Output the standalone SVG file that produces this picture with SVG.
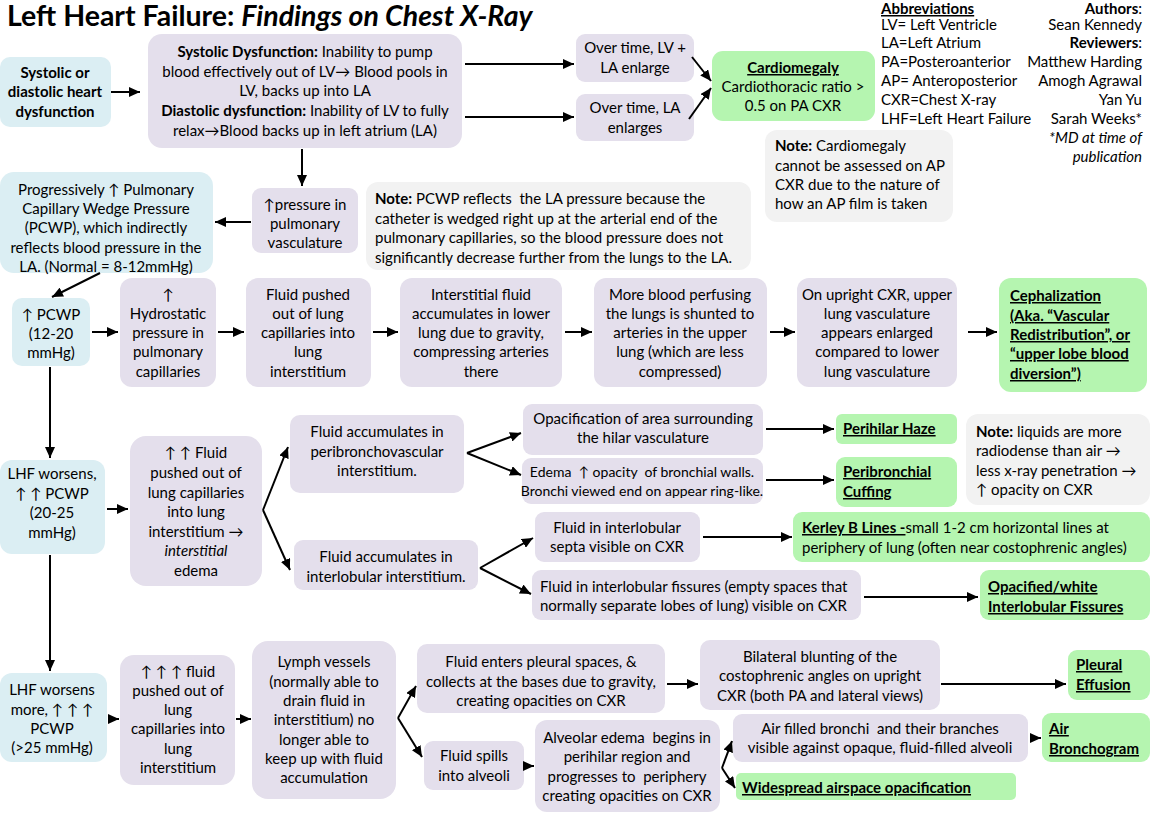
<svg xmlns="http://www.w3.org/2000/svg" width="1150" height="821" viewBox="0 0 1150 821">
<style>
text{font-family:Lato,"Liberation Sans",sans-serif;font-size:15px;fill:#000}
.c{text-anchor:middle}
.r{text-anchor:end}
.bd{font-weight:bold}
.it{font-style:italic}
.u{text-decoration:underline}
.sm{font-size:14px}
.p{fill:#e4dfec}
.b{fill:#dbeef3}
.g{fill:#b5f5b0}
.n{fill:#f2f2f2}
.title{font-size:28.5px;font-weight:bold}
#conn path{stroke:#000;stroke-width:2;fill:none;marker-end:url(#ah)}
</style>
<defs>
<marker id="ah" markerUnits="userSpaceOnUse" markerWidth="12" markerHeight="10" refX="11" refY="5" orient="auto">
<path d="M0,0 L11,5 L0,10 z" fill="#000"/>
</marker>
</defs>
<rect width="1150" height="821" fill="#fff"/>
<text x="7" y="26" class="title">Left Heart Failure: <tspan class="it">Findings on Chest X-Ray</tspan></text>

<g id="abbrev">
<text x="881" y="14" class="bd u">Abbreviations</text>
<text x="881" y="30">LV= Left Ventricle</text>
<text x="881" y="48">LA=Left Atrium</text>
<text x="881" y="67">PA=Posteroanterior</text>
<text x="881" y="86">AP= Anteroposterior</text>
<text x="881" y="105">CXR=Chest X-ray</text>
<text x="881" y="124">LHF=Left Heart Failure</text>
</g>
<g id="authors">
<text x="1142" y="14" class="r"><tspan class="bd">Authors</tspan>:</text>
<text x="1142" y="30" class="r">Sean Kennedy</text>
<text x="1142" y="48" class="r"><tspan class="bd">Reviewers</tspan>:</text>
<text x="1142" y="67" class="r">Matthew Harding</text>
<text x="1142" y="86" class="r">Amogh Agrawal</text>
<text x="1142" y="105" class="r">Yan Yu</text>
<text x="1142" y="124" class="r">Sarah Weeks*</text>
<text x="1142" y="143" class="r it">*MD at time of</text>
<text x="1142" y="162" class="r it">publication</text>
</g>

<g id="n1"><rect x="0" y="57" width="111" height="70" rx="10" class="b"/>
<text class="c bd"><tspan x="55" y="78">Systolic or</tspan><tspan x="55" y="97">diastolic heart</tspan><tspan x="55" y="117">dysfunction</tspan></text></g>

<g id="n2"><rect x="148" y="34" width="314" height="114" rx="14" class="p"/>
<text class="c"><tspan x="305" y="57"><tspan class="bd">Systolic Dysfunction:</tspan> Inability to pump</tspan><tspan x="305" y="77">blood effectively out of LV→ Blood pools in</tspan><tspan x="305" y="96">LV, backs up into LA</tspan><tspan x="305" y="116"><tspan class="bd">Diastolic dysfunction:</tspan> Inability of LV to fully</tspan><tspan x="305" y="136">relax→Blood backs up in left atrium (LA)</tspan></text></g>

<g id="n3"><rect x="576" y="34" width="118" height="48" rx="9" class="p"/>
<text class="c"><tspan x="635" y="53">Over time, LV +</tspan><tspan x="635" y="73">LA enlarge</tspan></text></g>

<g id="n4"><rect x="576" y="94" width="118" height="47" rx="9" class="p"/>
<text class="c"><tspan x="635" y="113">Over time, LA</tspan><tspan x="635" y="133">enlarges</tspan></text></g>

<g id="n5"><rect x="712" y="51" width="163" height="70" rx="11" class="g"/>
<text class="c"><tspan x="793" y="73" class="bd u">Cardiomegaly</tspan><tspan x="793" y="92">Cardiothoracic ratio &gt;</tspan><tspan x="793" y="111">0.5 on PA CXR</tspan></text></g>

<g id="note1"><rect x="765" y="130" width="188" height="92" rx="12" class="n"/>
<text><tspan x="775" y="151"><tspan class="bd">Note:</tspan> Cardiomegaly</tspan><tspan x="775" y="171">cannot be assessed on AP</tspan><tspan x="775" y="190">CXR due to the nature of</tspan><tspan x="775" y="209">how an AP film is taken</tspan></text></g>

<g id="n6"><rect x="252" y="188" width="106" height="65" rx="9" class="p"/>
<text class="c"><tspan x="305" y="210">↑pressure in</tspan><tspan x="305" y="229">pulmonary</tspan><tspan x="305" y="248">vasculature</tspan></text></g>

<g id="n7"><rect x="0" y="172" width="213" height="101" rx="14" class="b"/>
<text class="c"><tspan x="106" y="195">Progressively ↑ Pulmonary</tspan><tspan x="106" y="214">Capillary Wedge Pressure</tspan><tspan x="106" y="233">(PCWP), which indirectly</tspan><tspan x="106" y="253">reflects blood pressure in the</tspan><tspan x="106" y="272">LA. (Normal = 8-12mmHg)</tspan></text></g>

<g id="note2"><rect x="366" y="182" width="385" height="88" rx="12" class="n"/>
<text><tspan x="375" y="204"><tspan class="bd">Note:</tspan> PCWP reflects &#160;the LA pressure because the</tspan><tspan x="375" y="224">catheter is wedged right up at the arterial end of the</tspan><tspan x="375" y="243">pulmonary capillaries, so the blood pressure does not</tspan><tspan x="375" y="263">significantly decrease further from the lungs to the LA.</tspan></text></g>

<g id="n8"><rect x="12" y="298" width="78" height="68" rx="10" class="b"/>
<text class="c"><tspan x="51" y="320">↑ PCWP</tspan><tspan x="51" y="339">(12-20</tspan><tspan x="51" y="358">mmHg)</tspan></text></g>

<g id="n9"><rect x="120" y="278" width="96" height="109" rx="12" class="p"/>
<text class="c"><tspan x="168" y="300">↑</tspan><tspan x="168" y="319">Hydrostatic</tspan><tspan x="168" y="338">pressure in</tspan><tspan x="168" y="357">pulmonary</tspan><tspan x="168" y="377">capillaries</tspan></text></g>

<g id="n10"><rect x="246" y="278" width="125" height="109" rx="12" class="p"/>
<text class="c"><tspan x="308" y="300">Fluid pushed</tspan><tspan x="308" y="319">out of lung</tspan><tspan x="308" y="338">capillaries into</tspan><tspan x="308" y="357">lung</tspan><tspan x="308" y="377">interstitium</tspan></text></g>

<g id="n11"><rect x="400" y="278" width="162" height="109" rx="12" class="p"/>
<text class="c"><tspan x="481" y="300">Interstitial fluid</tspan><tspan x="481" y="319">accumulates in lower</tspan><tspan x="481" y="338">lung due to gravity,</tspan><tspan x="481" y="357">compressing arteries</tspan><tspan x="481" y="377">there</tspan></text></g>

<g id="n12"><rect x="594" y="278" width="173" height="109" rx="12" class="p"/>
<text class="c"><tspan x="680" y="300">More blood perfusing</tspan><tspan x="680" y="319">the lungs is shunted to</tspan><tspan x="680" y="338">arteries in the upper</tspan><tspan x="680" y="357">lung (which are less</tspan><tspan x="680" y="377">compressed)</tspan></text></g>

<g id="n13"><rect x="797" y="278" width="160" height="109" rx="12" class="p"/>
<text class="c"><tspan x="877" y="300">On upright CXR, upper</tspan><tspan x="877" y="319">lung vasculature</tspan><tspan x="877" y="338">appears enlarged</tspan><tspan x="877" y="357">compared to lower</tspan><tspan x="877" y="377">lung vasculature</tspan></text></g>

<g id="n14"><rect x="999" y="278" width="148" height="114" rx="12" class="g"/>
<text class="bd u"><tspan x="1010" y="301">Cephalization</tspan><tspan x="1010" y="321">(Aka. “Vascular</tspan><tspan x="1010" y="340">Redistribution”, or</tspan><tspan x="1010" y="359">“upper lobe blood</tspan><tspan x="1010" y="379">diversion”)</tspan></text></g>

<g id="n15"><rect x="0" y="460" width="105" height="94" rx="12" class="b"/>
<text class="c"><tspan x="52" y="479">LHF worsens,</tspan><tspan x="52" y="499">↑ ↑ PCWP</tspan><tspan x="52" y="518">(20-25</tspan><tspan x="52" y="538">mmHg)</tspan></text></g>

<g id="n16"><rect x="130" y="436" width="132" height="150" rx="16" class="p"/>
<text class="c"><tspan x="196" y="458">↑ ↑ Fluid</tspan><tspan x="196" y="478">pushed out of</tspan><tspan x="196" y="498">lung capillaries</tspan><tspan x="196" y="517">into lung</tspan><tspan x="196" y="537">interstitium →</tspan><tspan x="196" y="556" class="it">interstitial</tspan><tspan x="196" y="576">edema</tspan></text></g>

<g id="n17"><rect x="290" y="415" width="174" height="78" rx="10" class="p"/>
<text class="c"><tspan x="377" y="437">Fluid accumulates in</tspan><tspan x="377" y="457">peribronchovascular</tspan><tspan x="377" y="476">interstitium.</tspan></text></g>

<g id="n18"><rect x="294" y="540" width="184" height="50" rx="9" class="p"/>
<text class="c"><tspan x="386" y="562">Fluid accumulates in</tspan><tspan x="386" y="582">interlobular interstitium.</tspan></text></g>

<g id="n19"><rect x="523" y="404" width="240" height="51" rx="9" class="p"/>
<text class="c"><tspan x="643" y="424">Opacification of area surrounding</tspan><tspan x="643" y="443">the hilar vasculature</tspan></text></g>

<g id="n20"><rect x="522" y="458" width="241" height="46" rx="9" class="p"/>
<text class="c sm"><tspan x="642" y="477">Edema &#160;↑ opacity &#160;of bronchial walls.</tspan><tspan x="642" y="496">Bronchi viewed end on appear ring-like.</tspan></text></g>

<g id="n21"><rect x="836" y="414" width="121" height="30" rx="6" class="g"/>
<text x="843" y="434" class="bd u">Perihilar Haze</text></g>

<g id="n22"><rect x="836" y="457" width="121" height="50" rx="9" class="g"/>
<text class="bd u"><tspan x="843" y="477">Peribronchial</tspan><tspan x="843" y="497">Cuffing</tspan></text></g>

<g id="note3"><rect x="966" y="414" width="184" height="91" rx="12" class="n"/>
<text><tspan x="976" y="437"><tspan class="bd">Note:</tspan> liquids are more</tspan><tspan x="976" y="456">radiodense than air →</tspan><tspan x="976" y="476">less x-ray penetration →</tspan><tspan x="976" y="495">↑ opacity on CXR</tspan></text></g>

<g id="n23"><rect x="535" y="512" width="165" height="50" rx="9" class="p"/>
<text class="c"><tspan x="617" y="533">Fluid in interlobular</tspan><tspan x="617" y="552">septa visible on CXR</tspan></text></g>

<g id="n24"><rect x="793" y="512" width="357" height="50" rx="9" class="g"/>
<text><tspan x="802" y="533"><tspan class="bd u">Kerley B Lines -</tspan>small 1-2 cm horizontal lines at</tspan><tspan x="802" y="553">periphery of lung (often near costophrenic angles)</tspan></text></g>

<g id="n25"><rect x="532" y="570" width="329" height="50" rx="9" class="p"/>
<text><tspan x="540" y="592">Fluid in interlobular fissures (empty spaces that</tspan><tspan x="540" y="611">normally separate lobes of lung) visible on CXR</tspan></text></g>

<g id="n26"><rect x="980" y="570" width="170" height="50" rx="9" class="g"/>
<text class="bd u"><tspan x="988" y="592">Opacified/white</tspan><tspan x="988" y="612">Interlobular Fissures</tspan></text></g>

<g id="n27"><rect x="0" y="673" width="107" height="89" rx="12" class="b"/>
<text class="c"><tspan x="52" y="695">LHF worsens</tspan><tspan x="52" y="715">more, ↑ ↑ ↑</tspan><tspan x="52" y="734">PCWP</tspan><tspan x="52" y="753">(&gt;25 mmHg)</tspan></text></g>

<g id="n28"><rect x="120" y="655" width="115" height="130" rx="14" class="p"/>
<text class="c"><tspan x="178" y="677">↑ ↑ ↑ fluid</tspan><tspan x="178" y="696">pushed out of</tspan><tspan x="178" y="715">lung</tspan><tspan x="178" y="734">capillaries into</tspan><tspan x="178" y="754">lung</tspan><tspan x="178" y="773">interstitium</tspan></text></g>

<g id="n29"><rect x="252" y="641" width="144" height="158" rx="16" class="p"/>
<text class="c"><tspan x="324" y="667">Lymph vessels</tspan><tspan x="324" y="687">(normally able to</tspan><tspan x="324" y="706">drain fluid in</tspan><tspan x="324" y="725">interstitium) no</tspan><tspan x="324" y="745">longer able to</tspan><tspan x="324" y="764">keep up with fluid</tspan><tspan x="324" y="783">accumulation</tspan></text></g>

<g id="n30"><rect x="417" y="644" width="248" height="69" rx="10" class="p"/>
<text class="c"><tspan x="541" y="667">Fluid enters pleural spaces, &amp;</tspan><tspan x="541" y="687">collects at the bases due to gravity,</tspan><tspan x="541" y="706">creating opacities on CXR</tspan></text></g>

<g id="n31"><rect x="700" y="640" width="240" height="70" rx="10" class="p"/>
<text class="c"><tspan x="820" y="662">Bilateral blunting of the</tspan><tspan x="820" y="681">costophrenic angles on upright</tspan><tspan x="820" y="701">CXR (both PA and lateral views)</tspan></text></g>

<g id="n32"><rect x="1068" y="650" width="82" height="50" rx="9" class="g"/>
<text class="bd u"><tspan x="1076" y="670">Pleural</tspan><tspan x="1076" y="690">Effusion</tspan></text></g>

<g id="n33"><rect x="424" y="741" width="100" height="49" rx="9" class="p"/>
<text class="c"><tspan x="474" y="761">Fluid spills</tspan><tspan x="474" y="781">into alveoli</tspan></text></g>

<g id="n34"><rect x="535" y="720" width="185" height="92" rx="12" class="p"/>
<text class="c"><tspan x="627" y="743">Alveolar edema &#160;begins in</tspan><tspan x="627" y="762">perihilar region and</tspan><tspan x="627" y="782">progresses to &#160;periphery</tspan><tspan x="627" y="801">creating opacities on CXR</tspan></text></g>

<g id="n35"><rect x="733" y="714" width="295" height="48" rx="9" class="p"/>
<text class="c"><tspan x="880" y="734">Air filled bronchi &#160;and their branches</tspan><tspan x="880" y="753">visible against opaque, fluid-filled alveoli</tspan></text></g>

<g id="n36"><rect x="1042" y="713" width="108" height="49" rx="9" class="g"/>
<text class="bd u"><tspan x="1049" y="734">Air</tspan><tspan x="1049" y="754">Bronchogram</tspan></text></g>

<g id="n37"><rect x="736" y="773" width="280" height="27" rx="5" class="g"/>
<text x="742" y="793" class="bd u">Widespread airspace opacification</text></g>

<g id="conn">
<path d="M111,92 L140,92"/>
<path d="M465,64 L574,64"/>
<path d="M465,117 L574,117"/>
<path d="M692,57 L711,81"/>
<path d="M689,119 L711,88"/>
<path d="M302,149 L302,186"/>
<path d="M251,222 L215,222"/>
<path d="M100,273 L52,297"/>
<path d="M92,332 L118,332"/>
<path d="M218,332 L244,332"/>
<path d="M373,332 L398,332"/>
<path d="M565,332 L592,332"/>
<path d="M770,332 L795,332"/>
<path d="M968,332 L997,332"/>
<path d="M50,367 L50,458"/>
<path d="M107,509 L128,509"/>
<path d="M263,510 L288,447"/>
<path d="M263,510 L290,570"/>
<path d="M467,453 L521,433"/>
<path d="M467,453 L521,475"/>
<path d="M766,429 L834,429"/>
<path d="M766,480 L834,480"/>
<path d="M480,568 L533,538"/>
<path d="M480,568 L531,594"/>
<path d="M703,537 L792,537"/>
<path d="M864,597 L978,597"/>
<path d="M50,555 L50,671"/>
<path d="M108,719 L119,719"/>
<path d="M236,719 L251,719"/>
<path d="M398,718 L416,686"/>
<path d="M398,718 L422,757"/>
<path d="M667,684 L698,684"/>
<path d="M941,684 L1066,684"/>
<path d="M525,766 L534,766"/>
<path d="M722,768 L732,741"/>
<path d="M722,768 L735,788"/>
<path d="M1030,738 L1041,738"/>
</g>
</svg>
